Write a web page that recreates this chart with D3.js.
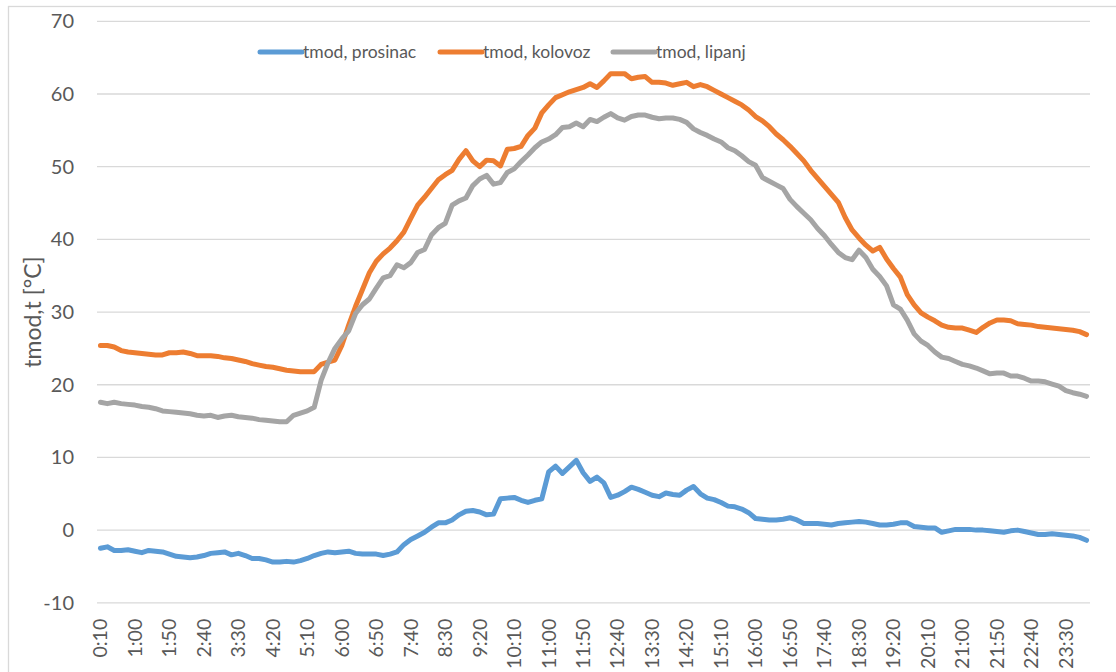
<!DOCTYPE html>
<html>
<head>
<meta charset="utf-8">
<script src="https://cdn.jsdelivr.net/npm/d3@7"></script>
<style>
  body { margin: 0; background: #fff; }
  text { font-family: Lato, "Open Sans", sans-serif; fill: #595959; }
</style>
</head>
<body>
<div id="chart"></div>
<script>
// Podaci - mjerenja svakih 10 minuta, od 0:10 do 24:00
var times = d3.range(144).map(function(i) {
    var m = 10 + 10 * i;
    var h = Math.floor(m / 60) % 24;
    var mm = m % 60;
    return h + ":" + (mm < 10 ? "0" + mm : mm);
});

var prosinac = [
  -2.5,-2.3,-2.8,-2.8,-2.7,-2.9,-3.1,-2.8,-2.9,-3.0,
  -3.3,-3.6,-3.7,-3.8,-3.7,-3.5,-3.2,-3.1,-3.0,-3.4,
  -3.2,-3.5,-3.9,-3.9,-4.1,-4.4,-4.4,-4.3,-4.4,-4.2,
  -3.9,-3.5,-3.2,-3.0,-3.1,-3.0,-2.9,-3.2,-3.3,-3.3,
  -3.3,-3.5,-3.3,-3.0,-2.0,-1.3,-0.8,-0.3,0.4,1.0,
  1.0,1.4,2.1,2.6,2.7,2.5,2.1,2.2,4.3,4.4,
  4.5,4.1,3.8,4.1,4.3,8.0,8.8,7.8,8.7,9.6,
  7.9,6.7,7.3,6.5,4.5,4.8,5.3,5.9,5.6,5.2,
  4.8,4.6,5.1,4.9,4.8,5.5,6.0,5.0,4.4,4.2,
  3.8,3.3,3.2,2.9,2.4,1.6,1.5,1.4,1.4,1.5,
  1.7,1.4,0.9,0.9,0.9,0.8,0.7,0.9,1.0,1.1,
  1.2,1.1,0.9,0.7,0.7,0.8,1.0,1.0,0.5,0.4,
  0.3,0.3,-0.3,-0.1,0.1,0.1,0.1,0.0,0.0,-0.1,
  -0.2,-0.3,-0.1,0.0,-0.2,-0.4,-0.6,-0.6,-0.5,-0.6,
  -0.7,-0.8,-1.0,-1.4
];

var kolovoz = [
  25.4,25.4,25.2,24.7,24.5,24.4,24.3,24.2,24.1,24.1,
  24.4,24.4,24.5,24.3,24.0,24.0,24.0,23.9,23.7,23.6,
  23.4,23.2,22.9,22.7,22.5,22.4,22.2,22.0,21.9,21.8,
  21.8,21.8,22.8,23.1,23.4,25.4,28.2,30.8,33.1,35.4,
  37.0,38.0,38.8,39.8,41.0,42.9,44.7,45.8,47.0,48.2,
  48.9,49.5,51.0,52.2,50.8,50.0,50.9,50.8,50.1,52.4,
  52.5,52.8,54.3,55.3,57.4,58.5,59.5,59.9,60.3,60.6,
  60.9,61.4,60.9,61.8,62.8,62.8,62.8,62.1,62.3,62.4,
  61.6,61.6,61.5,61.2,61.4,61.6,61.0,61.3,61.0,60.5,
  60.0,59.5,59.0,58.5,57.8,56.9,56.3,55.5,54.5,53.7,
  52.8,51.8,50.8,49.5,48.4,47.3,46.2,45.1,43.0,41.3,
  40.2,39.2,38.4,38.9,37.3,36.0,34.8,32.4,31.0,29.9,
  29.3,28.8,28.2,27.9,27.8,27.8,27.5,27.2,27.9,28.5,
  28.9,28.9,28.8,28.4,28.3,28.2,28.0,27.9,27.8,27.7,
  27.6,27.5,27.3,26.9
];

var lipanj = [
  17.6,17.4,17.6,17.4,17.3,17.2,17.0,16.9,16.7,16.4,
  16.3,16.2,16.1,16.0,15.8,15.7,15.8,15.5,15.7,15.8,
  15.6,15.5,15.4,15.2,15.1,15.0,14.9,14.9,15.8,16.1,
  16.4,16.9,20.6,23.0,25.0,26.3,27.4,29.8,31.0,31.8,
  33.3,34.7,35.0,36.5,36.1,36.8,38.2,38.6,40.6,41.6,
  42.2,44.7,45.3,45.7,47.4,48.3,48.8,47.6,47.8,49.2,
  49.7,50.7,51.6,52.6,53.4,53.8,54.4,55.4,55.5,56.0,
  55.5,56.5,56.2,56.8,57.3,56.7,56.4,56.9,57.1,57.1,
  56.8,56.6,56.7,56.7,56.5,56.1,55.2,54.7,54.3,53.8,
  53.4,52.6,52.2,51.5,50.7,50.2,48.5,48.0,47.5,47.0,
  45.5,44.5,43.6,42.7,41.5,40.5,39.3,38.2,37.5,37.2,
  38.5,37.5,35.9,34.9,33.6,31.0,30.4,28.9,27.0,26.0,
  25.4,24.5,23.8,23.6,23.2,22.8,22.6,22.3,21.9,21.5,
  21.6,21.6,21.2,21.2,20.9,20.5,20.5,20.4,20.1,19.8,
  19.2,18.9,18.7,18.4
];

var seriesNames = ["tmod, prosinac", "tmod, kolovoz", "tmod, lipanj"];
var seriesColors = ["#5B9BD5", "#ED7D31", "#A5A5A5"];
var yTicks = [-10, 0, 10, 20, 30, 40, 50, 60, 70];
var yTitle = "tmod,t [°C]";

var W = 1116, H = 672;
var plot = {left: 97, right: 1090, top: 21.3, bottom: 602.8};

var svg = d3.select("#chart").append("svg")
    .attr("width", W)
    .attr("height", H);

// okvir grafikona
svg.append("rect")
    .attr("x", 8.5).attr("y", 6.5)
    .attr("width", 1300).attr("height", 900)
    .attr("fill", "none")
    .attr("stroke", "#d9d9d9")
    .attr("stroke-width", 1.3);

var x = d3.scaleBand()
    .domain(times)
    .range([plot.left, plot.right])
    .paddingInner(0).paddingOuter(0);

var y = d3.scaleLinear()
    .domain([-10, 70])
    .range([plot.bottom, plot.top]);

// mreza
svg.append("g")
    .selectAll("line")
    .data(yTicks)
    .enter().append("line")
    .attr("x1", plot.left).attr("x2", plot.right)
    .attr("y1", function(d) { return y(d); })
    .attr("y2", function(d) { return y(d); })
    .attr("stroke", "#d9d9d9")
    .attr("stroke-width", 1.3);

// os y
var yAxis = svg.append("g")
    .attr("transform", "translate(" + (plot.left - 23) + ",0)")
    .call(d3.axisLeft(y).tickValues(yTicks).tickSize(0).tickPadding(0)
        .tickFormat(function(d) { return String(d); }));
yAxis.select(".domain").remove();
yAxis.selectAll("text")
    .style("font-size", "20px")
    .attr("fill", "#595959");

// os x
var xAxis = svg.append("g")
    .attr("transform", "translate(0," + plot.bottom + ")")
    .call(d3.axisBottom(x)
        .tickValues(times.filter(function(d, i) { return i % 5 === 0; }))
        .tickSize(0));
xAxis.select(".domain").remove();
xAxis.selectAll("text")
    .style("font-size", "19.5px")
    .attr("fill", "#595959")
    .attr("text-anchor", "end")
    .attr("y", 0)
    .attr("dy", "0.35em")
    .attr("transform", "translate(0,16) rotate(-90)");

// naslov osi y
svg.append("text")
    .attr("transform", "translate(33," + ((plot.top + plot.bottom) / 2) + ") rotate(-90)")
    .attr("text-anchor", "middle")
    .attr("dy", "0.35em")
    .style("font-size", "23px")
    .text(yTitle);

// linije
var line = d3.line()
    .x(function(d, i) { return x(times[i]) + x.bandwidth() / 2; })
    .y(function(d) { return y(d); });

[prosinac, kolovoz, lipanj].forEach(function(s, k) {
    svg.append("path")
        .datum(s)
        .attr("fill", "none")
        .attr("stroke", seriesColors[k])
        .attr("stroke-width", 5)
        .attr("stroke-linejoin", "round")
        .attr("stroke-linecap", "round")
        .attr("d", line);
});

// legenda
var legendX = [260, 440, 613];
var legend = svg.append("g");
seriesNames.forEach(function(name, k) {
    legend.append("line")
        .attr("x1", legendX[k]).attr("x2", legendX[k] + 42)
        .attr("y1", 52).attr("y2", 52)
        .attr("stroke", seriesColors[k])
        .attr("stroke-width", 5)
        .attr("stroke-linecap", "round");
    legend.append("text")
        .attr("x", legendX[k] + 43)
        .attr("y", 52)
        .attr("dy", "0.35em")
        .style("font-size", "17.5px")
        .text(name);
});
</script>
</body>
</html>
